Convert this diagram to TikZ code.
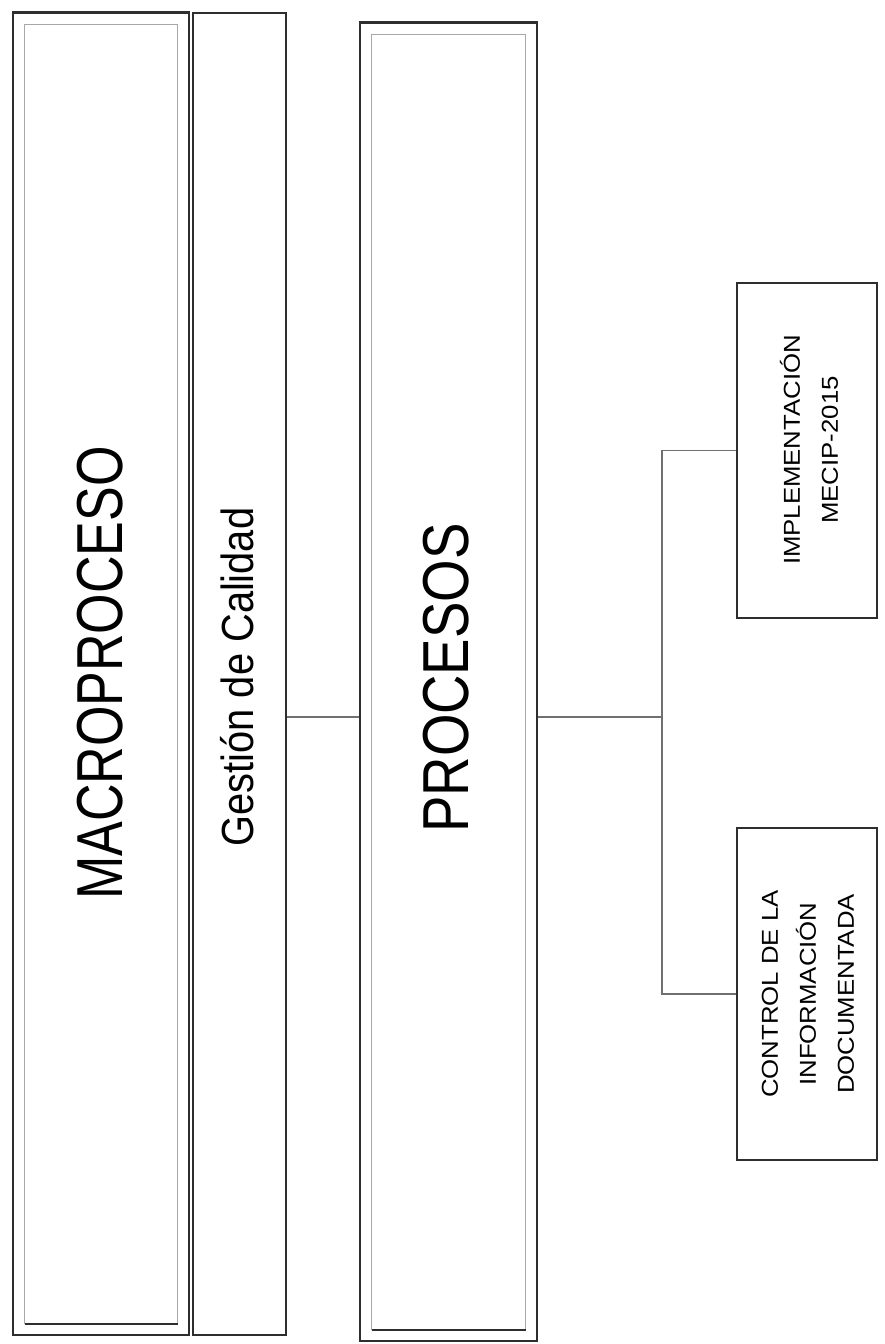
\documentclass[tikz,border=0pt]{standalone}
\usepackage{fontspec}
\setmainfont{Liberation Sans}
\definecolor{ink}{HTML}{2E2E2E}
\definecolor{wire}{HTML}{707070}
\definecolor{inset}{HTML}{A8A8A8}
\begin{document}
\begin{tikzpicture}[x=1pt,y=-1pt,
    frame/.style={draw=ink,line width=1.6pt,inner sep=0pt},
    leaf/.style={draw=ink,line width=1.2pt,inner sep=0pt},
    wireline/.style={wire,line width=1.5pt},
    title/.style={rotate=90,xscale=0.8,font=\fontsize{65}{78}\selectfont,anchor=base},
    small/.style={rotate=90,xscale=1.12,align=center,font=\fontsize{23}{38}\selectfont}]
    \useasboundingbox(0,0)rectangle(885,1344);
    % outer boxes
    \node[frame,minimum width=176pt,minimum height=1322pt](macro)at(101,674){};
    \node[frame,minimum width=93pt,minimum height=1322pt](gestion)at(239.5,674){};
    \node[frame,minimum width=177pt,minimum height=1318pt](procesos)at(448.5,682){};
    \node[leaf,minimum width=140pt,minimum height=335pt](impl)at(807,450.5){};
    \node[leaf,minimum width=140pt,minimum height=332pt](ctrl)at(807,994){};
    % inner frames
    \foreach \b in {macro,procesos}{
        \draw[inset,line width=1.2pt]([xshift=12.5pt,yshift=-12pt]\b.north west)rectangle([xshift=-12pt,yshift=12pt]\b.south east);
        \draw[ink,line width=2.6pt]([xshift=12.5pt,yshift=12pt]\b.south west)--([xshift=-12pt,yshift=12pt]\b.south east);
        \draw[ink,line width=3.2pt](\b.north west)--(\b.north east);
    }
    % texts
    \node[title]at(122,673){MACROPROCESO};
    \node[rotate=90,xscale=0.885,font=\fontsize{45}{54}\selectfont,anchor=base]at(253,677){Gestión de Calidad};
    \node[title,xscale=1.05]at(468,678){PROCESOS};
    \node[small]at(809,450){IMPLEMENTACIÓN\\MECIP-2015};
    \node[small]at(808,994){CONTROL DE LA\\INFORMACIÓN\\DOCUMENTADA};
    % connectors
    \coordinate(tie)at(300,717);\coordinate(bus)at(662,717);
    \draw[wireline](gestion.east|-tie)--(procesos.west|-tie);
    \draw[wireline](procesos.east|-bus)--(bus);
    \draw[wireline](impl.west)-|(bus)|-(ctrl.west);
\end{tikzpicture}
\end{document}
